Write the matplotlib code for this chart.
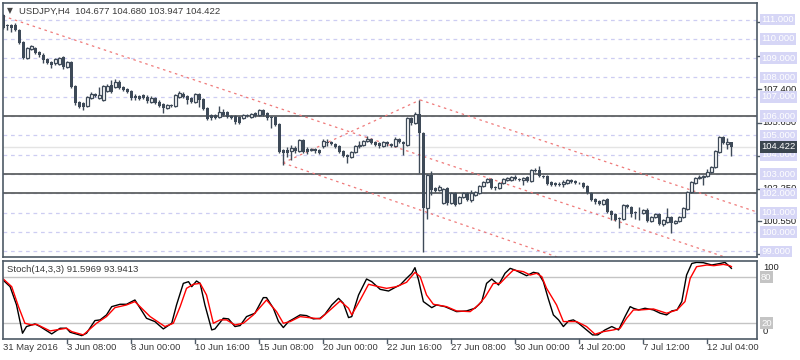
import numpy as np
import matplotlib.pyplot as plt
import matplotlib.transforms as mtransforms

plt.rcParams['font.family'] = ['Liberation Sans', 'DejaVu Sans']

# USDJPY H4 bars
opens = [111.23, 110.70, 110.72, 110.72, 110.46, 109.84, 109.01, 109.48, 109.53, 109.32,
         109.16, 108.96, 108.80, 108.75, 108.70, 109.06, 108.54, 108.80, 107.56, 106.73,
         106.68, 106.53, 106.94, 107.14, 106.94, 106.84, 107.30, 107.61, 107.51, 107.77,
         107.51, 107.40, 107.30, 107.04, 107.04, 107.09, 106.99, 106.73, 106.94, 106.73,
         106.63, 106.42, 106.58, 106.53, 106.99, 107.14, 107.04, 106.94, 106.73, 107.14,
         106.89, 106.42, 106.06, 106.06, 105.96, 106.22, 106.22, 106.01, 106.01, 105.96,
         105.90, 106.06, 105.96, 106.16, 106.06, 106.32, 106.16, 105.96, 105.96, 105.59,
         104.25, 104.25, 104.20, 104.35, 104.20, 104.77, 104.30, 104.25, 104.30, 104.25,
         104.45, 104.66, 104.66, 104.56, 104.46, 104.20, 103.99, 103.89, 104.15, 104.46,
         104.51, 104.72, 104.82, 104.66, 104.61, 104.46, 104.66, 104.56, 104.46, 104.82,
         104.66, 104.51, 105.90, 105.65, 106.11, 105.13, 101.25, 102.96, 102.28, 102.18,
         101.51, 102.28, 101.51, 102.02, 101.51, 101.82, 102.02, 101.66, 101.92, 102.02,
         102.38, 102.59, 102.75, 102.33, 102.28, 102.54, 102.70, 102.70, 102.85, 102.75,
         102.70, 102.85, 102.64, 103.21, 103.21, 102.90, 102.90, 102.59, 102.54, 102.49,
         102.49, 102.54, 102.70, 102.64, 102.55, 102.54, 102.38, 102.02, 101.71, 101.61,
         101.46, 101.71, 101.09, 100.94, 100.73, 100.68, 101.40, 101.30, 101.04, 101.05,
         100.99, 101.14, 100.58, 100.78, 100.94, 100.42, 100.53, 100.78, 100.47, 100.58,
         100.78, 101.20, 102.08, 102.54, 102.80, 102.85, 102.90, 103.11, 103.37, 104.15,
         104.92, 104.58, 104.677]
highs = [111.28, 110.75, 110.77, 110.82, 110.51, 109.89, 109.58, 109.68, 109.58, 109.37,
         109.27, 109.01, 108.85, 109.01, 109.06, 109.11, 108.85, 108.85, 107.61, 106.78,
         106.73, 107.04, 107.25, 107.19, 107.51, 107.61, 107.66, 107.87, 107.92, 107.87,
         107.56, 107.45, 107.35, 107.14, 107.09, 107.14, 107.09, 107.04, 106.99, 106.84,
         106.68, 106.63, 106.63, 107.14, 107.30, 107.25, 107.09, 106.99, 107.19, 107.19,
         106.94, 106.48, 106.11, 106.11, 106.53, 106.37, 106.27, 106.06, 106.06, 106.01,
         106.11, 106.11, 106.16, 106.22, 106.37, 106.37, 106.22, 106.01, 106.01, 105.65,
         104.30, 104.41, 104.51, 104.46, 104.82, 104.82, 104.41, 104.35, 104.35, 104.30,
         104.82, 104.82, 104.72, 104.61, 104.51, 104.25, 104.04, 104.20, 104.51, 104.72,
         104.77, 104.97, 104.87, 104.72, 104.66, 104.72, 104.72, 104.61, 104.92, 104.87,
         104.72, 105.96, 105.96, 106.22, 106.84, 105.18, 103.01, 103.16, 102.33, 102.44,
         102.28, 102.33, 102.08, 102.08, 101.87, 102.08, 102.08, 102.18, 102.13, 102.44,
         102.64, 102.80, 102.80, 102.38, 102.59, 102.80, 102.85, 102.90, 102.96, 102.80,
         102.85, 102.90, 103.27, 103.32, 103.42, 102.96, 102.96, 102.64, 102.59, 102.59,
         102.70, 102.75, 102.75, 102.70, 102.59, 102.59, 102.44, 102.08, 101.77, 101.66,
         101.71, 101.77, 101.14, 100.99, 100.78, 101.46, 101.46, 101.35, 101.09, 101.30,
         101.20, 101.25, 100.84, 100.99, 100.99, 100.68, 101.25, 100.84, 100.63, 100.84,
         101.30, 102.13, 102.64, 102.85, 102.96, 102.96, 103.27, 103.42, 104.25, 104.97,
         104.97, 104.87, 104.680]
lows = [110.51, 110.46, 110.36, 110.41, 109.74, 108.96, 108.96, 109.42, 109.22, 109.06,
        108.75, 108.70, 108.49, 108.65, 108.65, 108.44, 108.49, 107.45, 106.58, 106.42,
        106.32, 106.48, 106.89, 106.99, 106.89, 106.78, 107.25, 107.19, 107.45, 107.40,
        107.30, 107.19, 106.84, 106.84, 106.84, 106.89, 106.68, 106.68, 106.63, 106.48,
        106.16, 106.37, 106.48, 106.48, 106.94, 106.94, 106.63, 106.68, 106.68, 106.48,
        106.32, 105.80, 105.80, 105.85, 105.90, 106.01, 105.90, 105.85, 105.59, 105.59,
        105.85, 105.96, 105.90, 105.96, 106.01, 106.01, 105.80, 105.39, 105.49, 104.10,
        103.47, 103.89, 103.73, 104.10, 104.15, 104.10, 104.04, 104.20, 104.10, 104.04,
        104.35, 104.46, 104.51, 104.35, 104.10, 103.89, 103.58, 103.84, 104.10, 104.35,
        104.46, 104.66, 104.56, 104.46, 104.35, 104.41, 104.46, 104.41, 104.41, 104.61,
        103.99, 104.46, 105.54, 105.59, 103.06, 98.97, 100.68, 101.92, 102.08, 102.13,
        101.46, 101.40, 101.46, 101.35, 101.46, 101.77, 101.61, 101.56, 101.87, 101.97,
        102.33, 102.54, 102.23, 102.18, 102.23, 102.49, 102.64, 102.64, 102.70, 102.64,
        102.44, 102.59, 102.59, 103.11, 102.85, 102.80, 102.44, 102.38, 102.38, 102.38,
        102.33, 102.49, 102.54, 102.49, 102.49, 102.28, 101.97, 101.61, 101.46, 101.40,
        101.40, 100.99, 100.63, 100.58, 100.22, 100.63, 101.25, 100.78, 100.68, 100.63,
        100.94, 100.53, 100.53, 100.73, 100.37, 100.32, 100.47, 99.96, 100.42, 100.53,
        100.73, 101.14, 102.02, 102.49, 102.75, 102.44, 102.85, 103.06, 103.32, 104.10,
        104.56, 104.30, 103.947]
closes = [110.56, 110.68, 110.56, 110.46, 109.79, 109.01, 109.53, 109.63, 109.27, 109.16,
          108.90, 108.75, 108.65, 108.96, 109.01, 108.54, 108.80, 107.52, 106.68, 106.48,
          106.48, 106.99, 107.14, 107.04, 107.09, 107.56, 107.56, 107.25, 107.77, 107.45,
          107.35, 107.25, 106.94, 106.94, 106.89, 106.94, 106.78, 106.94, 106.68, 106.53,
          106.42, 106.58, 106.53, 107.09, 107.19, 106.99, 106.84, 106.73, 107.14, 106.84,
          106.37, 105.85, 105.90, 105.90, 106.22, 106.06, 105.96, 105.90, 105.70, 105.65,
          106.06, 106.01, 106.11, 106.01, 106.32, 106.06, 105.90, 105.90, 105.54, 104.15,
          104.10, 104.10, 104.35, 104.20, 104.77, 104.15, 104.15, 104.30, 104.20, 104.10,
          104.72, 104.61, 104.56, 104.41, 104.15, 103.94, 103.89, 104.15, 104.46, 104.51,
          104.72, 104.82, 104.61, 104.51, 104.46, 104.66, 104.56, 104.46, 104.82, 104.66,
          104.56, 105.90, 105.65, 106.11, 105.13, 101.25, 102.96, 102.18, 102.13, 102.33,
          102.23, 101.51, 102.02, 101.40, 101.82, 102.02, 101.66, 102.02, 102.08, 102.38,
          102.59, 102.75, 102.28, 102.28, 102.54, 102.75, 102.80, 102.85, 102.75, 102.70,
          102.80, 102.64, 103.21, 103.16, 102.90, 102.85, 102.49, 102.44, 102.44, 102.44,
          102.59, 102.70, 102.59, 102.54, 102.53, 102.33, 102.02, 101.66, 101.56, 101.46,
          101.66, 101.04, 100.89, 100.63, 100.68, 101.40, 101.30, 100.94, 100.99, 101.03,
          101.14, 100.58, 100.78, 100.94, 100.42, 100.63, 100.78, 100.47, 100.58, 100.78,
          101.25, 102.08, 102.59, 102.80, 102.85, 102.90, 103.11, 103.37, 104.20, 104.92,
          104.61, 104.66, 104.422]

time_labels = ['31 May 2016', '3 Jun 08:00', '8 Jun 00:00', '10 Jun 16:00', '15 Jun 08:00',
               '20 Jun 00:00', '22 Jun 16:00', '27 Jun 08:00', '30 Jun 00:00', '4 Jul 20:00',
               '7 Jul 12:00', '12 Jul 04:00']
time_label_bars = [0, 16, 32, 48, 64, 80, 96, 112, 128, 144, 160, 176]

grid_levels = [99, 100, 101, 102, 103, 104, 105, 106, 107, 108, 109, 110, 111]
sr_levels = [106, 103, 102]
scale_labels = [98.85, 100.55, 102.25, 103.95, 105.65, 107.40, 109.10, 110.85]
bid = 104.422

# trend channel drawn on the chart: (bar, price) end points
channel_lines = [((-0.08, 111.18), (180.4, 98.71)),
                 ((69.9, 103.58), (139.2, 98.66)),
                 ((69.9, 103.58), (104.2, 106.84)),
                 ((104.2, 106.84), (188.4, 101.04))]

# Stoch(14,3,3) main (%K) and signal (%D)
k_pos = [0.0, 1.7, 3.3, 4.8, 5.8, 7.1, 7.9, 9.2, 12.1, 14.2, 15.8, 16.7, 19.6, 20.8, 22.9,
         24.2, 25.8, 27.1, 29.2, 30.8, 32.9, 35.8, 37.9, 40.0, 42.1, 43.3, 45.0, 46.3, 47.1,
         48.3, 49.2, 50.4, 52.1, 52.9, 55.0, 56.3, 57.9, 59.2, 60.8, 62.9, 65.0, 65.8, 67.5,
         68.8, 70.0, 71.3, 72.5, 74.2, 75.8, 77.5, 79.2, 80.4, 82.1, 83.8, 85.0, 86.3, 87.1,
         88.8, 90.8, 92.1, 94.2, 96.3, 98.3, 99.2, 100.8, 102.1, 102.9, 103.8, 105.0, 107.1,
         108.3, 110.4, 113.3, 115.8, 117.9, 119.6, 120.8, 122.1, 123.8, 125.4, 126.7, 127.9,
         129.6, 130.8, 132.5, 133.8, 135.0, 136.2, 137.5, 138.8, 140.0, 141.3, 142.5, 143.8,
         145.8, 147.3, 148.6, 150.4, 152.1, 153.8, 155.4, 156.7, 157.5, 158.8, 160.4, 162.5,
         164.2, 165.8, 167.1, 168.4, 169.6, 170.8, 172.1, 173.3, 175.0, 177.1, 179.2, 180.4,
         181.6, 182.0]
k_val = [76.0, 67.7, 44.0, 6.9, 15.6, 17.7, 19.0, 15.6, 6.0, 13.4, 13.4, 8.2, 3.8, 6.9, 23.4,
         24.3, 30.8, 41.6, 44.7, 44.7, 50.3, 26.4, 22.1, 12.5, 19.9, 43.8, 72.0, 74.2, 67.7,
         75.1, 72.0, 43.8, 11.2, 12.5, 26.4, 25.6, 15.6, 16.9, 28.6, 33.0, 53.4, 53.4, 39.5,
         22.1, 14.3, 22.1, 25.6, 30.8, 29.9, 25.6, 26.4, 31.6, 43.8, 52.5, 46.0, 27.3, 28.6,
         56.8, 77.7, 74.2, 64.2, 62.0, 67.7, 69.9, 78.6, 85.1, 92.5, 76.4, 48.2, 40.3,
         43.8, 41.6, 35.1, 36.0, 39.5, 48.2, 72.0, 77.7, 69.9, 85.1, 91.6, 89.4,
         85.1, 82.0, 86.4, 85.1, 74.2, 52.5, 30.8, 24.3, 15.6, 22.9, 24.3, 19.9,
         11.2, 4.7, 4.7, 11.2, 15.6, 11.2, 28.6, 41.6, 39.5, 37.3, 39.5, 37.3,
         33.0, 30.8, 36.0, 37.3, 48.2, 82.9, 98.0, 99.4, 99.0, 96.0, 98.0, 99.4,
         93.8, 91.6]
d_pos = [0.0, 2.1, 3.8, 5.4, 7.1, 8.3, 11.7, 15.8, 17.1, 20.0, 23.3, 25.8, 27.9, 30.8, 32.9,
         36.7, 40.4, 42.5, 44.2, 45.8, 47.5, 49.2, 50.8, 52.5, 54.2, 55.8, 57.9, 60.0, 62.5,
         65.8, 68.3, 70.0, 71.7, 74.2, 79.2, 81.7, 84.2, 86.3, 87.1, 89.2, 91.3, 93.8, 95.8,
         98.3, 100.8, 102.9, 104.2, 105.8, 107.5, 110.8, 113.3, 116.7, 118.8, 120.5, 122.5,
         124.2, 125.8, 127.5, 130.0, 131.7, 133.3, 134.6, 135.8, 138.3, 140.0, 141.7, 143.3,
         145.8, 147.9, 150.0, 152.5, 154.2, 155.8, 157.5, 159.2, 162.5, 165.8, 168.4, 170.4,
         171.7, 173.3, 175.9, 177.6, 180.0, 181.6, 182.0]
d_val = [77.7, 67.7, 41.6, 19.9, 17.7, 18.6, 9.9, 13.4, 9.0, 4.7, 19.9, 28.6, 40.3, 43.8, 48.2,
         28.6, 15.6, 19.9, 41.6, 65.5, 70.8, 72.0, 56.8, 19.9, 24.3, 24.3, 17.7, 19.9, 30.8,
         50.3, 35.1, 19.9, 22.1, 28.6, 25.6, 37.3, 49.0, 39.5, 30.8, 50.3, 70.8, 67.7, 65.5,
         67.7, 73.4, 86.4, 80.8, 56.8, 44.7, 41.6, 36.0, 35.1, 43.8, 54.7, 72.0,
         72.0, 80.8, 89.4, 87.3, 82.9, 85.1, 80.8, 65.5, 43.8, 22.1, 22.1, 22.1,
         15.6, 5.6, 9.0, 11.2, 13.4, 26.4, 37.3, 37.3, 38.6, 33.0, 37.3, 48.2,
         78.6, 93.8, 96.0, 95.1, 96.8, 95.1, 93.9]

candle_col = '#3e4a58'
frame_col = '#4e5a66'
text_col = '#3a3a3a'

fig = plt.figure(figsize=(8, 3.6), dpi=100)
ax = fig.add_axes([3 / 800, 1 - 257 / 360, 754 / 800, 254 / 360])
ax2 = fig.add_axes([3 / 800, 1 - 338.5 / 360, 754 / 800, 77.8 / 360])

o = np.array(opens)
h = np.array(highs)
l = np.array(lows)
c = np.array(closes)
idx = np.arange(len(c))
up = c >= o
body_lo = np.minimum(o, c)
body_h = np.maximum(np.abs(c - o), 0.03)

# grid and levels
for lv in grid_levels:
    ax.axhline(lv, color='#cdcdf2', lw=0.9, ls=(0, (3, 3)), zorder=1)
ax.axhline(bid, color='#e4e4e4', lw=1, zorder=1)
for lv in sr_levels:
    ax.axhline(lv, color='#5e6163', lw=1.3, zorder=2)
for (x0, y0), (x1, y1) in channel_lines:
    ax.plot([x0, x1], [y0, y1], color='#ef7a7a', lw=0.9, ls=(0, (2, 3)), zorder=2)

# candles
ax.vlines(idx, l, h, color=candle_col, lw=1, zorder=3)
ax.bar(idx[~up], body_h[~up], bottom=body_lo[~up], width=0.72, color=candle_col, lw=0, zorder=4)
ax.bar(idx[up], body_h[up], bottom=body_lo[up], width=0.6, facecolor='white',
       edgecolor=candle_col, lw=0.9, zorder=4)

ax.set_xlim(-0.075, 188.4)
ax.set_ylim(98.713, 111.854)
ax.set_xticks([])
ax.set_yticks([])

# stochastic
ax2.axhline(80, color='#c4c4c4', lw=1)
ax2.axhline(20, color='#c4c4c4', lw=1)
ax2.plot(k_pos, k_val, color='black', lw=1)
ax2.plot(d_pos, d_val, color='#ff0000', lw=1)
ax2.set_xlim(-0.075, 188.4)
ax2.set_ylim(0, 101.6)
ax2.set_xticks([])
ax2.set_yticks([])

for a in (ax, ax2):
    for s in a.spines.values():
        s.set_color(frame_col)
        s.set_linewidth(1.2)

# right price scale
tr = mtransforms.blended_transform_factory(fig.transFigure, ax.transData)
tra = mtransforms.blended_transform_factory(ax.transAxes, ax.transData)
for v in scale_labels:
    ax.plot([1.0, 1.005], [v, v], color=frame_col, lw=1, transform=tra, clip_on=False)
    fig.text(762 / 800, v, f'{v:.3f}', transform=tr, fontsize=6.8, color='#222222',
             va='center', ha='left', zorder=5)
for lv in grid_levels:
    fig.text(761 / 800, lv, f'{lv:.3f}', transform=tr, fontsize=6.8, color='white',
             va='center', ha='left', zorder=6,
             bbox=dict(boxstyle='square,pad=0.15', fc='#d6d6f6', ec='none'))
fig.text(761 / 800, bid, f'{bid:.3f}', transform=tr, fontsize=6.8, color='white',
         va='center', ha='left', zorder=7,
         bbox=dict(boxstyle='square,pad=0.15', fc='#3b4550', ec='none'))

# stochastic scale
tr2 = mtransforms.blended_transform_factory(fig.transFigure, ax2.transData)
fig.text(763 / 800, 1 - 267 / 360, '100', fontsize=6.8, color='#222222', va='center', ha='left')
fig.text(763 / 800, 1 - 332 / 360, '0', fontsize=6.8, color='#222222', va='center', ha='left')
for lv in (80, 20):
    fig.text(761 / 800, lv, str(lv), transform=tr2, fontsize=6.8, color='white',
             va='center', ha='left', bbox=dict(boxstyle='square,pad=0.15', fc='#c4c4c4', ec='none'))

# time axis
trb = mtransforms.blended_transform_factory(ax2.transData, fig.transFigure)
for b, lab in zip(time_label_bars, time_labels):
    if b > 0:
        ax2.plot([b, b], [1 - 338.5 / 360, 1 - 343 / 360], color=frame_col, lw=1,
                 transform=trb, clip_on=False)
    fig.text(b, 1 - 348 / 360, lab, transform=trb, fontsize=6.8, color=text_col,
             va='center', ha='left')

# captions
fig.text(7 / 800, 1 - 11 / 360, '\u25bc', fontsize=5.5, color='#444444', va='center', ha='left',
         family='DejaVu Sans')
fig.text(19 / 800, 1 - 11 / 360, 'USDJPY,H4  104.677 104.680 103.947 104.422', fontsize=6.8,
         color=text_col, va='center', ha='left')
fig.text(7 / 800, 1 - 270 / 360, 'Stoch(14,3,3) 91.5969 93.9413', fontsize=6.8,
         color=text_col, va='center', ha='left')

fig.savefig('out.png', dpi=100)
